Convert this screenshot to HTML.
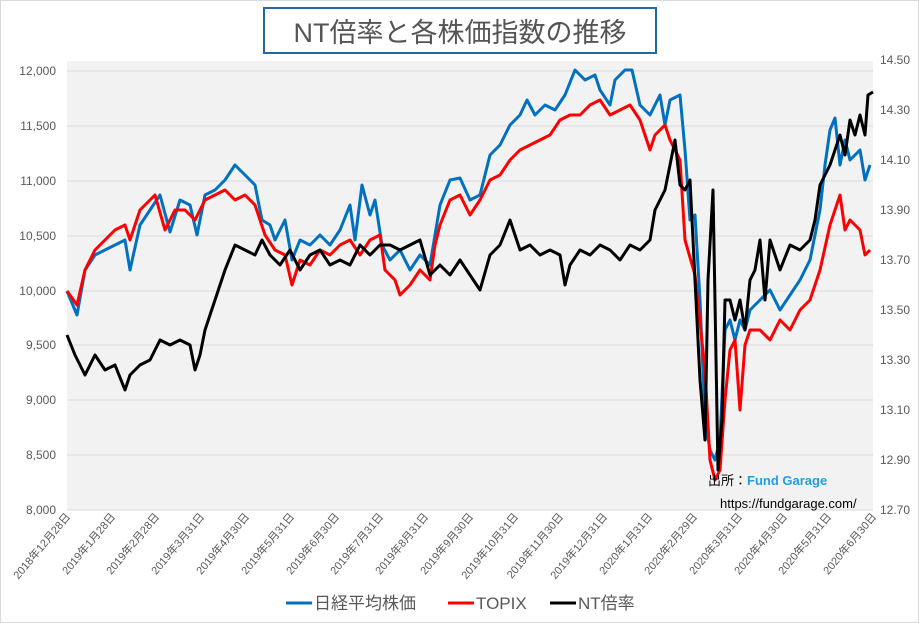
<!DOCTYPE html>
<html><head><meta charset="utf-8"><style>
body{margin:0;background:#fff;}
svg{display:block;font-family:"Liberation Sans","Noto Sans CJK JP",sans-serif;}
</style></head><body>
<svg width="919" height="623" viewBox="0 0 919 623">
<rect x="0.5" y="0.5" width="918" height="622" fill="#fff" stroke="#d9d9d9"/>
<rect x="67" y="61" width="806" height="449" fill="#f2f2f2"/>
<g stroke="#d9d9d9" stroke-width="1">
<line x1="67" x2="873" y1="71" y2="71"/><line x1="67" x2="873" y1="126" y2="126"/>
<line x1="67" x2="873" y1="181" y2="181"/><line x1="67" x2="873" y1="236" y2="236"/>
<line x1="67" x2="873" y1="291" y2="291"/><line x1="67" x2="873" y1="345" y2="345"/>
<line x1="67" x2="873" y1="400" y2="400"/><line x1="67" x2="873" y1="455" y2="455"/>
<line x1="67" x2="873" y1="510" y2="510"/>
</g>
<rect x="264" y="8" width="392" height="45" fill="#fff" stroke="#1f6aa5" stroke-width="2"/>
<text x="460" y="42" font-size="27" fill="#555" text-anchor="middle">NT倍率と各株価指数の推移</text>
<g font-size="12" fill="#595959" text-anchor="end">
<text x="56" y="75">12,000</text><text x="56" y="130">11,500</text><text x="56" y="185">11,000</text>
<text x="56" y="240">10,500</text><text x="56" y="295">10,000</text><text x="56" y="349">9,500</text>
<text x="56" y="404">9,000</text><text x="56" y="459">8,500</text><text x="56" y="514">8,000</text>
</g>
<g font-size="12" fill="#595959">
<text x="880" y="64">14.50</text><text x="880" y="114">14.30</text><text x="880" y="164">14.10</text>
<text x="880" y="214">13.90</text><text x="880" y="264">13.70</text><text x="880" y="314">13.50</text>
<text x="880" y="364">13.30</text><text x="880" y="414">13.10</text><text x="880" y="464">12.90</text>
<text x="880" y="514">12.70</text>
</g>
<g font-size="11" fill="#595959" text-anchor="end">
<text transform="translate(71,517) rotate(-50)">2018年12月28日</text>
<text transform="translate(116,517) rotate(-50)">2019年1月28日</text>
<text transform="translate(160,517) rotate(-50)">2019年2月28日</text>
<text transform="translate(205,517) rotate(-50)">2019年3月31日</text>
<text transform="translate(250,517) rotate(-50)">2019年4月30日</text>
<text transform="translate(295,517) rotate(-50)">2019年5月31日</text>
<text transform="translate(340,517) rotate(-50)">2019年6月30日</text>
<text transform="translate(384,517) rotate(-50)">2019年7月31日</text>
<text transform="translate(429,517) rotate(-50)">2019年8月31日</text>
<text transform="translate(474,517) rotate(-50)">2019年9月30日</text>
<text transform="translate(519,517) rotate(-50)">2019年10月31日</text>
<text transform="translate(564,517) rotate(-50)">2019年11月30日</text>
<text transform="translate(608,517) rotate(-50)">2019年12月31日</text>
<text transform="translate(653,517) rotate(-50)">2020年1月31日</text>
<text transform="translate(698,517) rotate(-50)">2020年2月29日</text>
<text transform="translate(743,517) rotate(-50)">2020年3月31日</text>
<text transform="translate(788,517) rotate(-50)">2020年4月30日</text>
<text transform="translate(832,517) rotate(-50)">2020年5月31日</text>
<text transform="translate(877,517) rotate(-50)">2020年6月30日</text>
</g>
<g fill="none" stroke-width="3" stroke-linejoin="round">
<polyline stroke="#0070c0" points="67,291 77,315 85,270 95,255 105,250 115,245 125,240 130,270 140,225 150,210 160,195 170,232 180,200 190,205 197,235 205,195 215,190 225,180 235,165 245,175 255,185 262,220 270,225 275,240 285,220 292,260 300,240 310,245 320,235 330,245 340,230 350,205 355,240 362,185 370,215 375,200 382,245 390,260 400,250 410,270 420,255 430,265 440,205 450,180 460,178 470,200 480,195 490,155 500,145 510,125 520,115 527,100 535,115 545,105 555,110 565,95 575,70 585,80 595,75 600,90 610,105 615,80 625,70 632,70 640,105 650,115 660,95 665,125 670,100 680,95 685,150 690,220 695,215 700,300 705,420 710,450 715,460 720,440 725,330 730,320 735,340 740,320 745,330 750,310 760,300 770,290 780,310 790,295 800,280 810,260 820,210 825,165 830,130 835,118 840,165 845,140 850,160 855,155 860,150 865,180 870,165"/>
<polyline stroke="#ff0000" points="67,291 77,305 85,270 95,250 105,240 115,230 125,225 130,240 140,210 150,200 155,195 165,230 175,210 185,210 195,220 205,200 215,195 225,190 235,200 245,195 255,205 265,235 275,250 285,255 292,285 300,260 310,265 320,250 330,255 340,245 350,240 360,255 370,240 380,235 385,270 395,280 400,295 410,285 420,270 430,280 435,245 440,225 450,200 460,195 470,215 480,200 490,180 500,175 510,160 520,150 530,145 540,140 550,135 560,120 570,115 580,115 590,105 600,100 610,115 620,110 630,105 640,120 650,150 655,135 665,125 670,140 680,160 685,240 695,275 705,370 710,460 715,480 720,470 725,400 730,350 735,340 740,410 745,345 750,330 760,330 770,340 780,320 790,330 800,310 810,300 820,270 830,225 840,195 845,230 850,220 855,225 860,230 865,255 870,250"/>
<polyline stroke="#000" points="67,335 75,355 85,375 95,355 105,370 115,365 125,390 130,375 140,365 150,360 160,340 170,345 180,340 190,345 195,370 200,355 205,330 215,300 225,270 235,245 245,250 255,255 262,240 270,255 280,265 290,250 300,270 310,255 320,250 330,265 340,260 350,265 360,245 370,255 380,245 390,245 400,250 410,245 420,240 430,275 440,265 450,275 460,260 470,275 480,290 490,255 500,245 510,220 520,250 530,245 540,255 550,250 560,255 565,285 570,265 580,250 590,255 600,245 610,250 620,260 630,245 640,250 650,240 655,210 665,190 670,165 675,140 680,185 685,190 690,180 695,280 700,380 705,440 708,280 713,190 718,470 722,420 725,300 730,300 735,320 740,300 745,330 750,280 755,270 760,240 765,300 770,240 780,270 790,245 800,250 810,240 815,220 820,185 830,165 840,135 845,155 850,120 855,135 860,115 865,135 868,95 873,92"/>
</g>
<text x="708" y="485" font-size="13" fill="#000">出所：<tspan fill="#1ea0e0" font-weight="bold">Fund Garage</tspan></text>
<text x="720" y="508" font-size="13" fill="#000">https://fundgarage.com/</text>
<g font-size="17" fill="#595959">
<line x1="286" x2="312" y1="603" y2="603" stroke="#0070c0" stroke-width="3"/>
<text x="314" y="609">日経平均株価</text>
<line x1="448" x2="474" y1="603" y2="603" stroke="#ff0000" stroke-width="3"/>
<text x="476" y="609">TOPIX</text>
<line x1="550" x2="576" y1="603" y2="603" stroke="#000" stroke-width="3"/>
<text x="578" y="609">NT倍率</text>
</g>
</svg>
</body></html>
